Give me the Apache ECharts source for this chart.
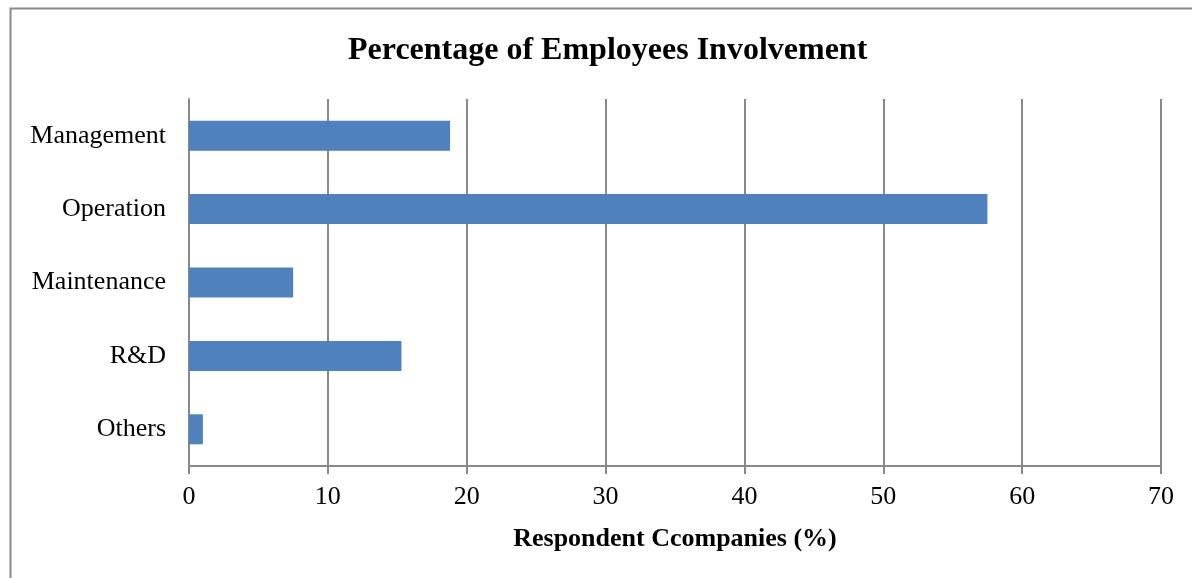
<!DOCTYPE html>
<html>
<head>
<meta charset="utf-8">
<script src="https://cdn.jsdelivr.net/npm/echarts@6/dist/echarts.min.js"></script>
<style>
  html, body { margin: 0; padding: 0; background: #fff; }
  #chart { width: 1192px; height: 578px; }
</style>
</head>
<body>
<div id="chart"></div>
<script>
// Departments, listed top to bottom
const categories = ['Management', 'Operation', 'Maintenance', 'R&D', 'Others'];
// Share of respondent companies (%) for each department
const involvement = [18.8, 57.5, 7.5, 15.3, 1.0];
// X axis range
const xMin = 0;
const xMax = 70;
const xStep = 10;

const serif = '"Liberation Serif", "DejaVu Serif", serif';
const gray = '#898989';

const chart = echarts.init(document.getElementById('chart'));
chart.setOption({
  backgroundColor: '#ffffff',
  animation: false,
  graphic: [{
    type: 'rect',
    shape: { x: 10.5, y: 8.5, width: 1200, height: 600 },
    style: { fill: 'none', stroke: gray, lineWidth: 2 },
    silent: true
  }],
  title: {
    text: 'Percentage of Employees Involvement',
    left: 343,
    top: 30,
    textStyle: { fontFamily: serif, fontWeight: 'bold', fontSize: 32, color: '#000' }
  },
  grid: { left: 189, right: 31, top: 99, bottom: 112 },
  xAxis: {
    type: 'value',
    min: xMin,
    max: xMax,
    interval: xStep,
    name: 'Respondent Ccompanies (%)',
    nameLocation: 'middle',
    nameGap: 60,
    nameTextStyle: { fontFamily: serif, fontWeight: 'bold', fontSize: 26, color: '#000' },
    axisLine: { show: true, lineStyle: { color: gray, width: 2 } },
    axisTick: { show: true, length: 8, lineStyle: { color: gray, width: 2 } },
    axisLabel: { fontFamily: serif, fontSize: 26, color: '#000', margin: 18 },
    splitLine: { show: true, lineStyle: { color: gray, width: 2 } }
  },
  yAxis: {
    type: 'category',
    data: categories,
    inverse: true,
    axisLine: { show: true, lineStyle: { color: gray, width: 2 } },
    axisTick: { show: false },
    axisLabel: { fontFamily: serif, fontSize: 26, color: '#000', margin: 23 }
  },
  series: [{
    type: 'bar',
    data: involvement,
    barWidth: 30,
    itemStyle: { color: '#4F81BD' }
  }]
});
</script>
</body>
</html>
